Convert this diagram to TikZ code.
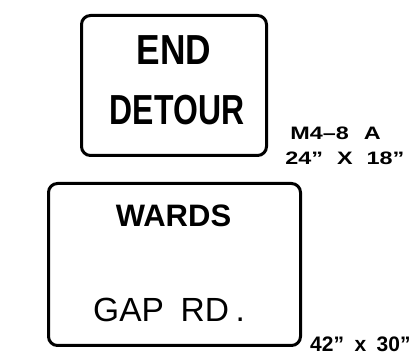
\documentclass[tikz,border=0pt]{standalone}
\usepackage{fontspec}
\setmainfont{Liberation Sans}
\begin{document}
\begin{tikzpicture}[x=1pt,y=-1pt,
  signbox/.style={draw=black,line width=3pt,rounded corners=9pt,fill=white},
  bigtext/.style={inner sep=0pt,font=\fontsize{42}{42}\selectfont\bfseries},
  midtext/.style={inner sep=0pt,font=\fontsize{31}{31}\selectfont\bfseries},
  lowtext/.style={inner sep=0pt,font=\fontsize{33.5}{33.5}\selectfont},
  lbl/.style={inner sep=0pt,anchor=base west,xscale=1.3,font=\fontsize{18}{18}\selectfont\bfseries},
  lblb/.style={inner sep=0pt,anchor=base west,font=\fontsize{21}{21}\selectfont\bfseries}]
\useasboundingbox (0,0) rectangle (418,355);
\fill[white] (0,0) rectangle (418,355);
% top sign
\draw[signbox] (81.5,15.5) rectangle (266.5,155.5);
\node[bigtext,anchor=base,xscale=0.84] (end) at (174,65) {END};
\node[bigtext,anchor=base,xscale=0.76] (detour) at (177,125) {DETOUR};
\node[lbl] (code) at (290,140) {M4–8\hspace{0.65em}A};
\node[lbl] (size1) at (285,165) {24”\hspace{0.6em}X\hspace{0.6em}18”};
% bottom sign
\draw[signbox] (48.5,183.5) rectangle (300.5,345.5);
\node[midtext,anchor=base] (wards) at (173.5,227) {WARDS};
\node[lowtext,anchor=base west] (gap) at (93,322) {GAP\hspace{0.5em}RD\hspace{0.2em}.};
\node[lblb] (size2) at (310,352) {42”\hspace{0.5em}x\hspace{0.5em}30”};
\end{tikzpicture}
\end{document}
